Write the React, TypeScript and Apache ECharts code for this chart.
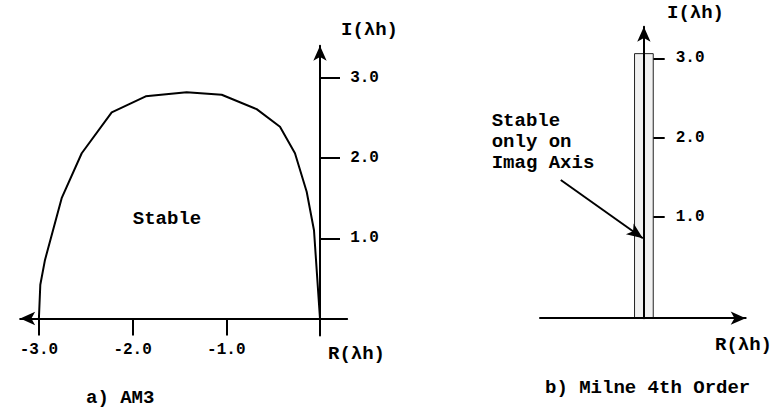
import { useEffect, useRef } from "react";
import * as echarts from "echarts";

// AM3 (Adams-Moulton, 3rd order) stability boundary, upper half-plane: Re(λh), Im(λh)
const am3Re = [-3.0, -2.985, -2.935, -2.757, -2.543, -2.223, -1.86, -1.423, -1.049, -0.676, -0.427, -0.267, -0.142, -0.064, 0];
const am3Im = [0, 0.42, 0.73, 1.5, 2.06, 2.57, 2.77, 2.82, 2.79, 2.61, 2.39, 2.06, 1.58, 1.1, 0];

const am3ReTicks = [-3, -2, -1];
const am3ImTicks = [1, 2, 3];
const milneImTicks = [1, 2, 3];

// Milne 4th order: stable only on a thin strip along the imaginary axis
const milneStripRe = [-0.09, 0.09];
const milneStripIm = [-0.28, 3.06];

// annotation arrow pointing at the imaginary axis
const milneArrowFrom = [-0.8, 1.465];
const milneArrowTo = [-0.01, 0.73];

const FONT = "'Liberation Mono', 'Courier New', monospace";
const INK = "#000";

export default function App() {
  const ref = useRef<HTMLDivElement>(null);

  useEffect(() => {
    if (!ref.current) return;
    const chart = echarts.init(ref.current, undefined, { renderer: "svg" });

    const text = (s: string, x: number, y: number, align = "left") => ({
      type: "text",
      x,
      y,
      style: {
        text: s,
        fontFamily: FONT,
        fontWeight: "bold",
        fontSize: 19,
        fill: INK,
        align,
        verticalAlign: "middle",
        lineHeight: 21.3,
      },
    });

    const labelStyle = {
      fontFamily: FONT,
      fontWeight: "bold",
      fontSize: 16,
      color: INK,
      formatter: (v: number) => v.toFixed(1),
    };

    const axisLineStyle = { color: INK, width: 2 };

    chart.setOption({
      animation: false,
      backgroundColor: "#fff",
      grid: [
        { left: 20.16, top: 45.8, width: 327.0, height: 289.7 },
        { left: 540, top: 26.7, width: 205.7, height: 291.5 },
      ],
      xAxis: [
        {
          type: "value",
          gridIndex: 0,
          min: -3.2,
          max: 0.29,
          splitLine: { show: false },
          axisLine: {
            onZero: true,
            symbol: ["arrow", "none"],
            symbolSize: [10, 15],
            lineStyle: axisLineStyle,
          },
          axisTick: {
            show: true,
            customValues: am3ReTicks,
            length: 17,
            lineStyle: axisLineStyle,
          },
          axisLabel: { ...labelStyle, customValues: am3ReTicks, margin: 6 },
        },
        {
          type: "value",
          gridIndex: 1,
          min: -1,
          max: 0.98,
          z: 10,
          splitLine: { show: false },
          axisLine: {
            onZero: false,
            symbol: ["none", "arrow"],
            symbolSize: [10, 15],
            lineStyle: axisLineStyle,
          },
          axisTick: { show: false },
          axisLabel: { show: false },
        },
      ],
      yAxis: [
        {
          type: "value",
          gridIndex: 0,
          position: "right",
          min: -0.2125,
          max: 3.4,
          splitLine: { show: false },
          axisLine: {
            onZero: true,
            symbol: ["none", "arrow"],
            symbolSize: [10, 15],
            lineStyle: axisLineStyle,
          },
          axisTick: {
            show: true,
            customValues: am3ImTicks,
            length: 20,
            lineStyle: axisLineStyle,
          },
          axisLabel: {
            ...labelStyle,
            customValues: am3ImTicks,
            margin: 3,
          },
        },
        {
          type: "value",
          gridIndex: 1,
          min: -0.28,
          max: 3.4,
          z: 10,
          splitLine: { show: false },
          axisLine: {
            onZero: true,
            symbol: ["none", "arrow"],
            symbolSize: [10, 15],
            lineStyle: axisLineStyle,
          },
          axisTick: { show: false },
          axisLabel: { show: false },
        },
        {
          // tick marks beside the strip
          type: "value",
          gridIndex: 1,
          position: "left",
          offset: -112.7,
          min: -0.28,
          max: 3.4,
          splitLine: { show: false },
          axisLine: { show: false, onZero: false },
          axisTick: {
            show: true,
            inside: true,
            customValues: milneImTicks,
            length: 12,
            lineStyle: axisLineStyle,
          },
          axisLabel: {
            ...labelStyle,
            inside: true,
            customValues: milneImTicks,
            margin: 23,
          },
        },
      ],
      series: [
        {
          name: "AM3",
          type: "line",
          xAxisIndex: 0,
          yAxisIndex: 0,
          data: am3Re.map((x, i) => [x, am3Im[i]]),
          showSymbol: false,
          silent: true,
          lineStyle: { color: INK, width: 2 },
        },
        {
          name: "Milne strip",
          type: "custom",
          xAxisIndex: 1,
          yAxisIndex: 1,
          silent: true,
          encode: { x: [0, 1], y: [2, 3] },
          data: [[milneStripRe[0], milneStripRe[1], milneStripIm[0], milneStripIm[1]]],
          renderItem: (_params: any, api: any) => {
            const tl = api.coord([api.value(0), api.value(3)]);
            const br = api.coord([api.value(1), api.value(2)]);
            return {
              type: "rect",
              shape: { x: tl[0], y: tl[1], width: br[0] - tl[0], height: br[1] - tl[1] },
              style: { fill: "#f1f1f1", stroke: "#222", lineWidth: 1 },
            };
          },
        },
        {
          name: "note",
          type: "line",
          xAxisIndex: 1,
          yAxisIndex: 1,
          data: [],
          silent: true,
          markLine: {
            silent: true,
            symbol: ["none", "arrow"],
            symbolSize: [10, 16],
            label: { show: false },
            lineStyle: { color: INK, width: 2, type: "solid" },
            data: [[{ coord: milneArrowFrom }, { coord: milneArrowTo }]],
          },
        },
      ],
      graphic: [
        text("I(λh)", 341, 30),
        text("R(λh)", 328, 354),
        text("Stable", 167, 219, "center"),
        text("a) AM3", 86, 398),
        text("I(λh)", 667, 13),
        text("R(λh)", 715, 345),
        text("Stable\nonly on\nImag Axis", 491.7, 142),
        text("b) Milne 4th Order", 545, 388),
      ],
    });

    return () => chart.dispose();
  }, []);

  return <div ref={ref} style={{ width: 771, height: 409, position: "absolute", left: 0, top: 0 }} />;
}
